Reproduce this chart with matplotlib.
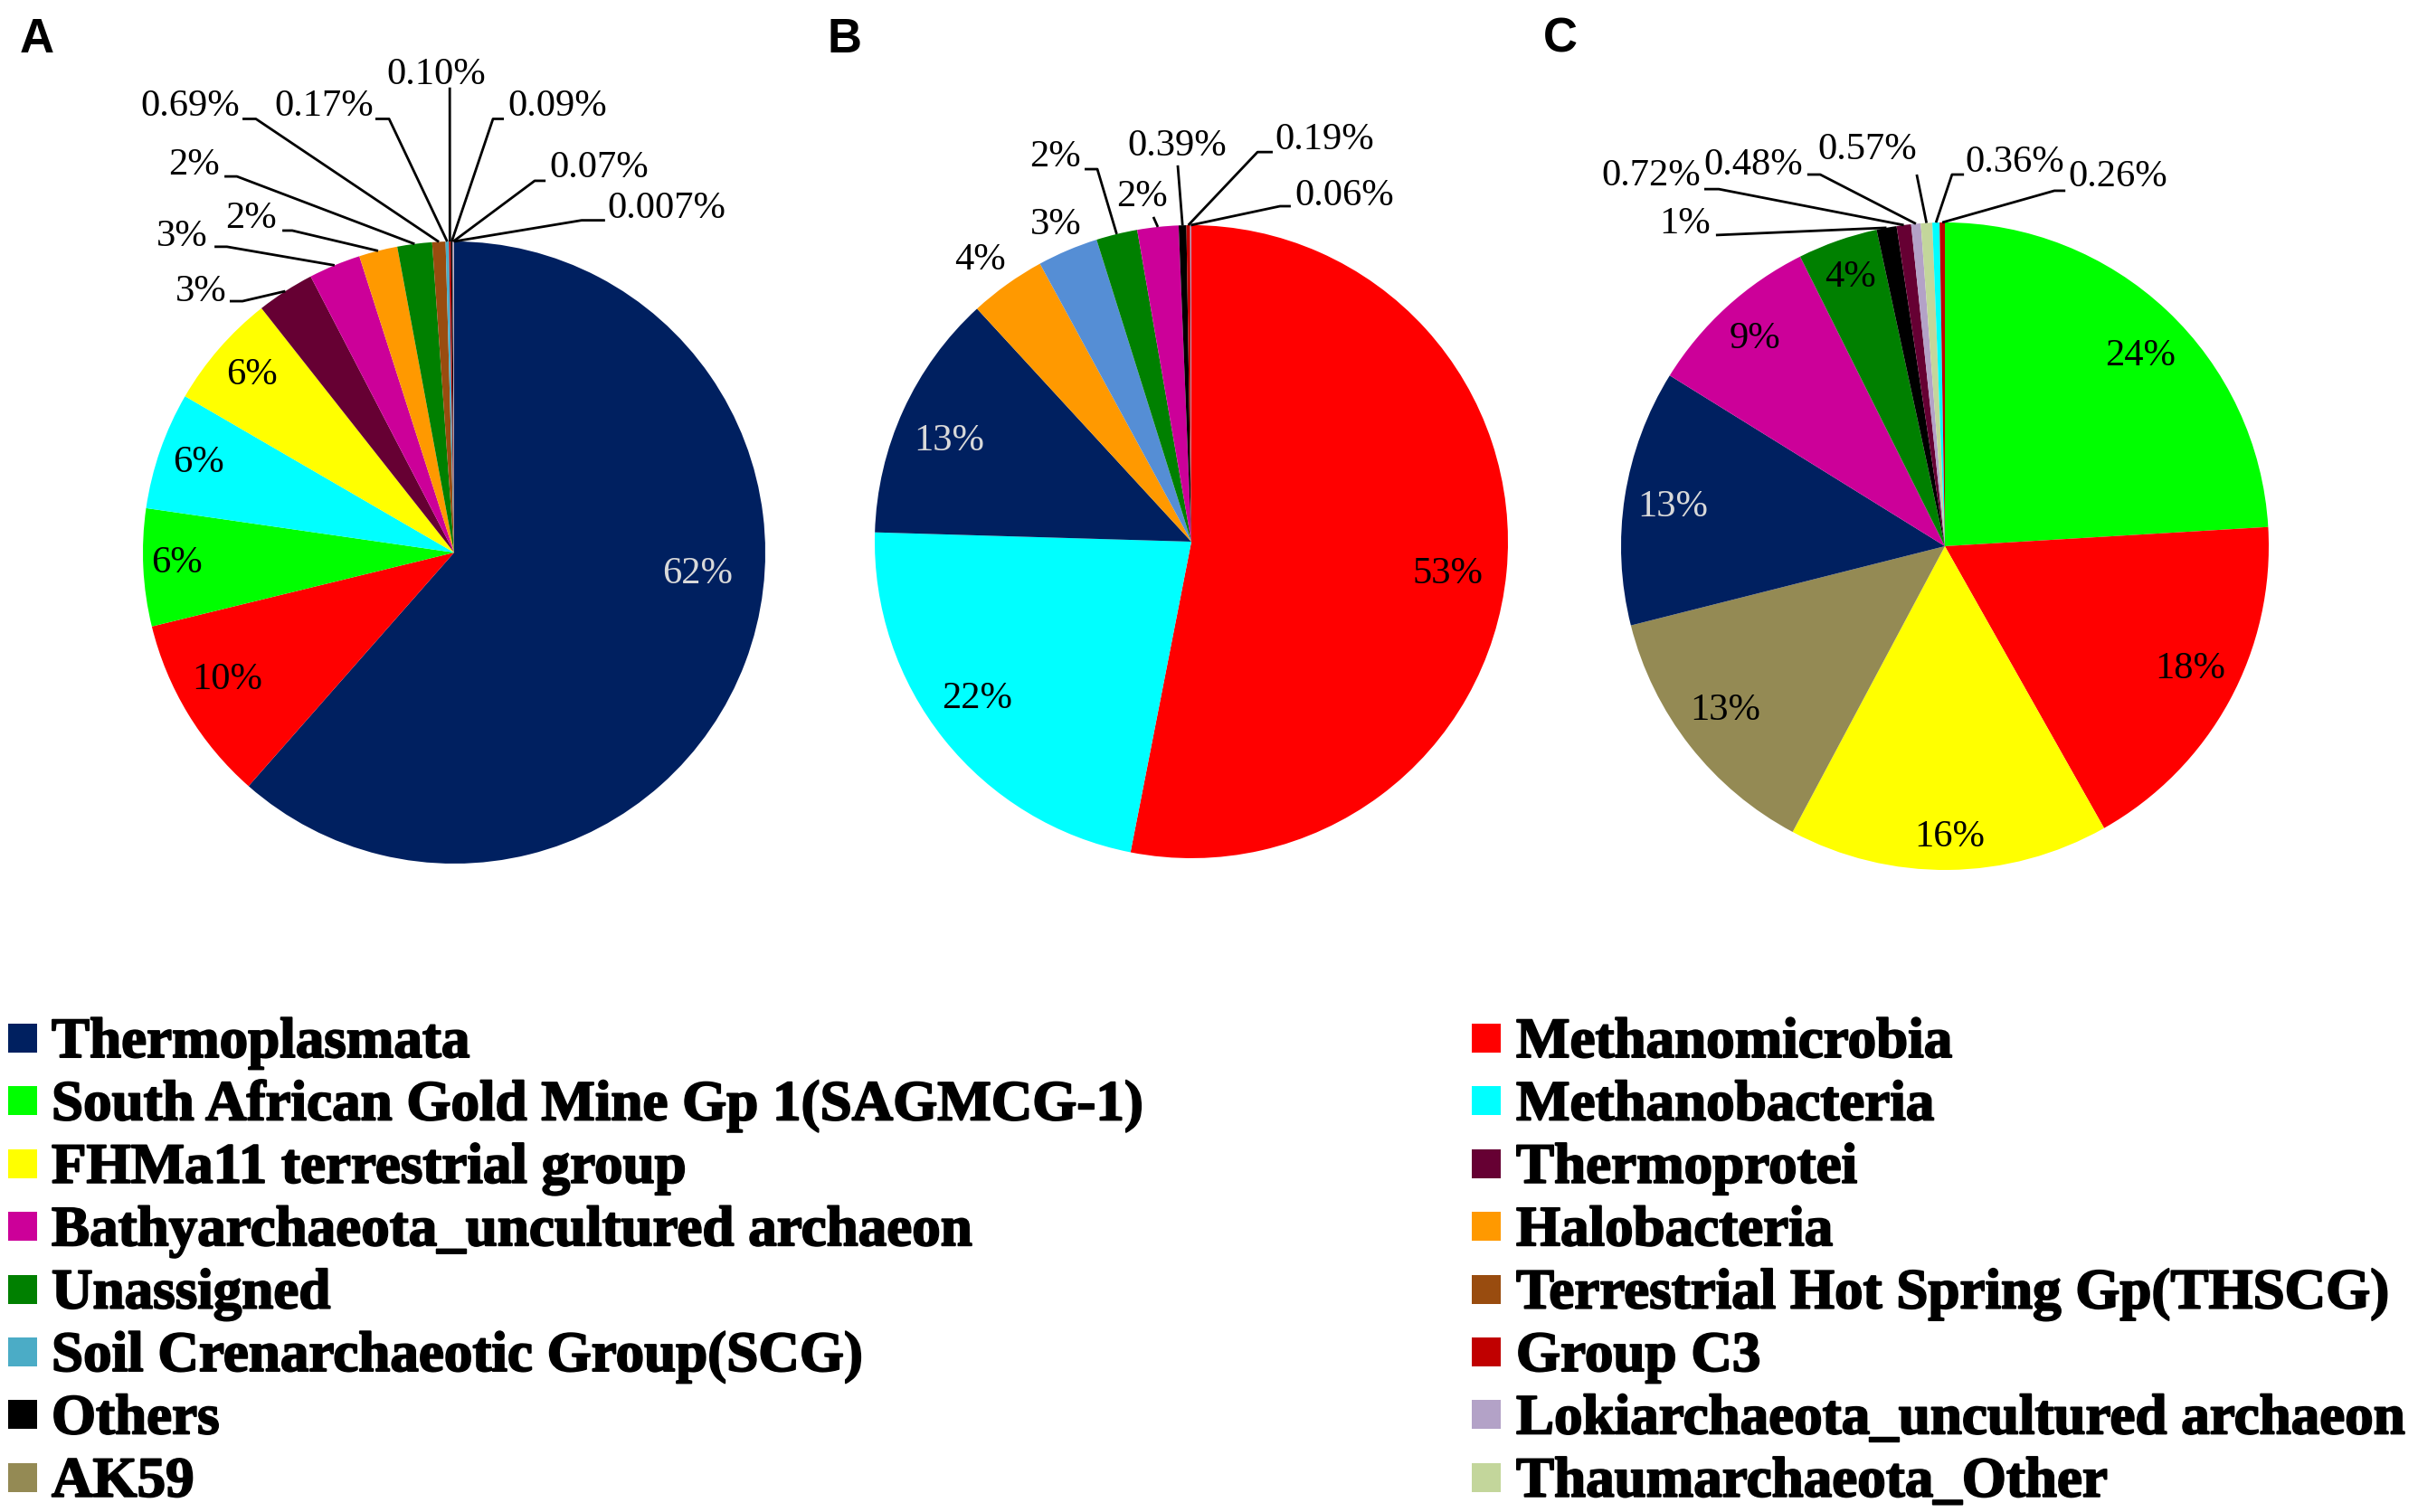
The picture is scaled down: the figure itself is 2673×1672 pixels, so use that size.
import matplotlib
matplotlib.use("Agg")
import matplotlib.pyplot as plt
from matplotlib.patches import Rectangle
import matplotlib.patheffects as pe
import numpy as np

# ---------------- data ----------------
categories = [
    "Thermoplasmata", "Methanomicrobia",
    "South African Gold Mine Gp 1(SAGMCG-1)", "Methanobacteria",
    "FHMa11 terrestrial group", "Thermoprotei",
    "Bathyarchaeota_uncultured archaeon", "Halobacteria",
    "Unassigned", "Terrestrial Hot Spring Gp(THSCG)",
    "Soil Crenarchaeotic Group(SCG)", "Group C3",
    "Others", "Lokiarchaeota_uncultured archaeon",
    "AK59", "Thaumarchaeota_Other",
]
category_colors = [
    "#002060", "#FF0000",
    "#00FF00", "#00FFFF",
    "#FFFF00", "#660033",
    "#CC0099", "#FF9900",
    "#008000", "#994C0F",
    "#4BACC6", "#C00000",
    "#000000", "#B3A2C7",
    "#948A54", "#C3D69B",
]

pie_a_names = ["Thermoplasmata", "Methanomicrobia", "South African Gold Mine Gp 1(SAGMCG-1)",
               "Methanobacteria", "FHMa11 terrestrial group", "Thermoprotei",
               "Bathyarchaeota_uncultured archaeon", "Halobacteria", "Unassigned",
               "Terrestrial Hot Spring Gp(THSCG)", "Soil Crenarchaeotic Group(SCG)", "Group C3",
               "Others", "Lokiarchaeota_uncultured archaeon", "AK59"]
pie_a_values = [61.5, 9.7, 6.1, 6.1, 6.0, 3.0, 2.7, 2.0, 1.8, 0.69, 0.17, 0.10, 0.09, 0.07, 0.007]
pie_a_labels = ["62%", "10%", "6%", "6%", "6%", "3%", "3%", "2%", "2%",
                "0.69%", "0.17%", "0.10%", "0.09%", "0.07%", "0.007%"]

pie_b_names = ["Methanomicrobia", "Methanobacteria", "Thermoplasmata", "Halobacteria",
               "Soil Crenarchaeotic Group(SCG)", "Unassigned", "Bathyarchaeota_uncultured archaeon",
               "Others", "Group C3", "Lokiarchaeota_uncultured archaeon"]
pie_b_values = [53.1, 22.4, 12.7, 3.9, 3.1, 2.1, 2.1, 0.39, 0.19, 0.06]
pie_b_labels = ["53%", "22%", "13%", "4%", "3%", "2%", "2%", "0.39%", "0.19%", "0.06%"]

pie_c_names = ["South African Gold Mine Gp 1(SAGMCG-1)", "Methanomicrobia", "FHMa11 terrestrial group",
               "AK59", "Thermoplasmata", "Bathyarchaeota_uncultured archaeon", "Unassigned",
               "Others", "Thermoprotei", "Lokiarchaeota_uncultured archaeon", "Thaumarchaeota_Other",
               "Methanobacteria", "Group C3"]
pie_c_values = [24.1, 17.8, 16.0, 13.3, 12.8, 8.8, 4.0, 1.0, 0.72, 0.48, 0.57, 0.36, 0.26]
pie_c_labels = ["24%", "18%", "16%", "13%", "13%", "9%", "4%", "1%", "0.72%", "0.48%",
                "0.57%", "0.36%", "0.26%"]

# ---------------- layout / style ----------------
W, H, DPI = 2673, 1672, 200
SERIF = ["Liberation Serif", "DejaVu Serif"]
SANS = ["Liberation Sans", "DejaVu Sans"]
LIGHT = "#D9D9D9"
color_of = dict(zip(categories, category_colors))
b_color_override = {"Soil Crenarchaeotic Group(SCG)": "#558ED5"}

# label placement per slice: (x, y, leader) in pie-radius units;
# leader = (start_x, start_y, elbow_x or None)
layout_a = [
    (0.782, -0.07, None), (-0.730, -0.410, None), (-0.89, -0.035, None),
    (-0.82, 0.288, None), (-0.651, 0.57, None),
    (-0.814, 0.837, (-0.721, 0.808, -0.680)),
    (-0.875, 1.015, (-0.770, 0.983, -0.730)),
    (-0.654, 1.073, (-0.552, 1.035, -0.520)),
    (-0.837, 1.244, (-0.738, 1.209, -0.698)),
    (-0.849, 1.435, (-0.680, 1.394, -0.637)),
    (-0.419, 1.435, (-0.253, 1.394, -0.209)),
    (-0.058, 1.535, (-0.014, 1.495, None)),
    (0.331, 1.435, (0.160, 1.394, 0.125)),
    (0.465, 1.235, (0.294, 1.195, 0.259)),
    (0.683, 1.105, (0.485, 1.068, 0.410)),
]
light_a = {0}
layout_b = [
    (0.809, -0.103, None), (-0.677, -0.497, None), (-0.766, 0.317, None),
    (-0.666, 0.889, None), (-0.429, 1.0, None),
    (-0.429, 1.214, (-0.337, 1.177, -0.297)),
    (-0.157, 1.089, (-0.120, 1.026, None)),
    (-0.046, 1.249, (-0.043, 1.189, None)),
    (0.420, 1.269, (0.257, 1.231, 0.209)),
    (0.483, 1.091, (0.314, 1.060, 0.280)),
]
light_b = {2}
layout_c = [
    (0.604, 0.587, None), (0.757, -0.380, None), (0.014, -0.90, None),
    (-0.679, -0.508, None), (-0.841, 0.12, None), (-0.587, 0.64, None),
    (-0.293, 0.83, None),
    (-0.804, 0.994, (-0.707, 0.961, None)),
    (-0.908, 1.142, (-0.743, 1.103, -0.698)),
    (-0.592, 1.176, (-0.425, 1.148, -0.385)),
    (-0.240, 1.223, (-0.087, 1.148, None)),
    (0.215, 1.184, (0.059, 1.148, 0.022)),
    (0.534, 1.140, (0.372, 1.098, 0.338)),
]
light_c = {4}

fig = plt.figure(figsize=(W / DPI, H / DPI), dpi=DPI)
fig.patch.set_facecolor("white")


def draw_pie(cx, cy, r, names, values, labels, layout, light, override=None):
    ax = fig.add_axes([(cx - r) / W, 1 - (cy + r) / H, 2 * r / W, 2 * r / H])
    cols = [(override or {}).get(n, color_of[n]) for n in names]
    wedges, _ = ax.pie(values, colors=cols, startangle=90, counterclock=False,
                       radius=1.0, wedgeprops=dict(linewidth=0))
    ax.set_xlim(-1, 1)
    ax.set_ylim(-1, 1)
    ax.set_aspect("equal")
    ax.axis("off")
    for i, (w, lab, (tx, ty, leader)) in enumerate(zip(wedges, labels, layout)):
        ax.text(tx, ty, lab, ha="center", va="center", fontsize=15.3,
                family=SERIF, color=LIGHT if i in light else "black", clip_on=False)
        if leader is not None:
            sx, sy, ex = leader
            mid = np.deg2rad((w.theta1 + w.theta2) / 2)
            px = [sx] + ([ex] if ex is not None else []) + [np.cos(mid)]
            py = [sy] + ([sy] if ex is not None else []) + [np.sin(mid)]
            ax.plot(px, py, color="black", lw=1.0, clip_on=False,
                    solid_capstyle="butt")
    return ax


draw_pie(502, 611, 344, pie_a_names, pie_a_values, pie_a_labels, layout_a, light_a)
draw_pie(1317, 599, 350, pie_b_names, pie_b_values, pie_b_labels, layout_b, light_b,
         b_color_override)
draw_pie(2150, 604, 358, pie_c_names, pie_c_values, pie_c_labels, layout_c, light_c)

# panel letters
for letter, x in (("A", 22), ("B", 914), ("C", 1706)):
    fig.text(x / W, 1 - 58 / H, letter, ha="left", va="baseline", fontsize=19,
             fontweight="bold", family=SANS)

# legend (two columns, row-major order)
row0, pitch = 1148, 69.4
col_marker_x = [9, 1627]
col_text_x = [57, 1676]
msize = 32
heavy = [pe.withStroke(linewidth=0.7, foreground="black")]
for k, (name, col) in enumerate(zip(categories, category_colors)):
    row, c = divmod(k, 2)
    yc = row0 + row * pitch
    fig.patches.append(Rectangle((col_marker_x[c] / W, 1 - (yc + msize / 2) / H),
                                 msize / W, msize / H, transform=fig.transFigure,
                                 facecolor=col, edgecolor="none"))
    fig.text(col_text_x[c] / W, 1 - (yc + 21) / H, name, ha="left", va="baseline",
             fontsize=22.7, fontweight="bold", family=SERIF, path_effects=heavy)

fig.savefig("out.png", dpi=DPI, facecolor="white")
